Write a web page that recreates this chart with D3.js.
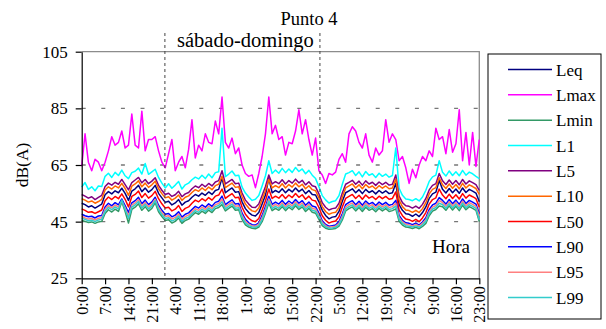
<!DOCTYPE html>
<html>
<head>
<meta charset="utf-8">
<script src="https://cdn.jsdelivr.net/npm/d3@7"></script>
<style>
  body { margin: 0; background: #fff; }
  svg text { font-family: "Liberation Serif", "Times New Roman", serif; fill: #000; }
</style>
</head>
<body>
<div id="chart"></div>
<script>
// hourly values, 5 days (0:00 day 1 .. 23:00 day 5)
const tickLabels = ["0:00","7:00","14:00","21:00","4:00","11:00","18:00","1:00","8:00",
  "15:00","22:00","5:00","12:00","19:00","2:00","9:00","16:00","23:00"];

const Leq = [
  51.5,51,50.2,50.6,49.8,50.5,51.2,54.5,55.6,54.8,55.9,55.2,56.8,55,52.5,55.8,56.6,57.8,55.6,56.9,55.4,56.3,57.8,55,
  53.4,51.8,52.2,50.9,51.6,52.8,50.8,51.9,52.4,53.6,54.6,54,55.1,54.3,55.5,54.6,56,56.4,60.5,55.2,56.1,56.9,55.4,55.6,
  52,49.6,48.2,47.3,47,48.2,51.2,54.4,60.5,55.2,56,55.3,56.6,55.2,56.4,55.5,56.9,55.6,56.5,54.9,56,54.6,54.4,52,
  49,47.2,46,46.6,46.8,48.6,52.2,55.2,55.9,56.6,55.2,56.3,54.9,56.4,55.3,55.9,54.8,56,55.1,55.9,54.9,55.2,58.5,51,
  49,47.8,47.6,46.9,47.7,46.8,48.2,50.2,53.2,54.8,55.4,59.5,56.4,55.1,56.7,55.2,56.5,55,56.9,55.3,56.4,55.8,55.1,52
];
const Lmax = [
  64.5,76,66,63,67,66,63,66,70,75,72,73,77,71,72,83,72,71,84,70,74,74,75,70,
  66,64,69,74,63,66,68,64,70.5,81,67.5,72,70,76,73,72.5,80.5,76,89,73,71,74.5,69,71,
  65,62,61,61.5,57,62,68,76,89,76,79,74,75,68.5,73,72.5,77,84.5,76,81,74,68.5,74.5,63,
  61.5,58.5,62,61.5,62.5,67,69,66,76,78.5,77,73,71,76,68.5,66,71,68.5,70,81,73,76,74,66.5,
  68,64,58.5,63.5,60.5,65,68,66.5,70,68,78,74,75,69,77.5,69.5,72.5,84.5,66.5,76.5,65,76.5,64.5,74
];
const Lmin = [
  45.5,45.1,44.7,44.9,44.4,44.9,45.1,47.9,49.2,48.4,49.4,48.6,52,48.6,44.5,49.3,50.1,51.3,49,50.3,48.7,49.7,51.7,48.5,
  46.8,45.4,45.7,44.5,45.1,46.3,44.4,45.4,45.9,47.1,48.2,47.6,48.7,47.9,49.1,48.2,49.6,50,51,48.8,49.7,50.5,49,49.2,
  45.8,43.9,43.1,42.7,42.5,43.1,45,48.1,51.5,48.9,49.7,49,50.3,48.9,50.1,49.2,50.6,49.3,50.2,48.6,49.7,48.3,48,45.8,
  43.6,42.7,42.3,42.4,42.6,43.4,45.6,48.8,49.6,50.2,48.8,50,48.6,50.1,49,49.6,48.5,49.7,48.8,49.6,48.6,48.9,49.5,45.1,
  43.8,43.1,42.9,42.6,43,42.5,43.3,44.4,47.1,48.7,49.3,50.5,50.3,49,50.6,49.1,50.4,48.9,50.8,49.2,50.3,49.7,49,45
];
const L1 = [
  57.2,58.8,56.4,57.3,55.9,57.6,57.4,61,62.1,60.6,62.4,61.3,63.2,61.2,60.2,62.3,62.8,63.9,61.8,65.5,61.7,62.6,63.5,60.6,
  58.6,56.9,58.4,56.8,57.9,59.2,56.5,58,58.6,59.8,60.7,60.1,61.4,60.2,61.8,60.5,62.3,62.6,78,60.9,61.8,62.9,61.2,61.4,
  57.2,55.1,53.7,52.5,52.9,54.2,57.6,61.2,66.5,62,63.2,62.1,63.8,62.3,63.6,62.4,64.1,62.7,63.6,61.9,63.1,61.4,60.2,57.3,
  54.2,52.7,51.6,52.1,52.4,54.2,58.2,61.8,62.3,63,61.3,62.6,60.8,62.7,61.4,61.9,60.6,62.1,61,61.8,60.7,61.3,71,56.8,
  54.3,53,52.8,52.4,53.1,52.3,53.7,56.1,59.2,60.8,61.4,66.5,62.4,61.1,62.9,61.3,62.6,61.2,63.1,61.4,62.5,61.9,61,60.2
];
const L5 = [
  54.6,54,53.3,53.8,52.8,53.6,54.3,57.4,58.6,57.9,58.9,58.2,59.9,58.1,56.2,58.8,59.7,60.6,58.7,59.9,58.4,59.3,60.5,57.8,
  56.1,54.6,55,53.9,54.5,55.7,53.8,54.8,55.3,56.6,57.6,57,58.2,57.3,58.5,57.6,59,59.5,63,58.3,59.1,59.9,58.4,58.6,
  55.1,52.6,51.2,50.1,50,51.2,54.2,57.4,61.5,58.3,59.1,58.4,59.8,58.3,59.5,58.6,60,58.7,59.6,58,59.1,57.7,57.3,54.8,
  51.7,50.1,49.1,49.6,49.8,51.5,55.1,58.2,58.9,59.6,58.2,59.3,57.9,59.4,58.3,58.9,57.8,59,58.1,58.9,57.9,58.2,61.5,54,
  51.7,50.6,50.4,49.8,50.5,49.7,51.1,53.2,56.2,57.8,58.4,62,59.4,58.1,59.7,58.2,59.5,58,59.9,58.3,59.4,58.8,58.1,56
];
const L10 = [
  53.1,52.6,51.9,52.3,51.5,52.1,52.9,56.2,57.3,56.5,57.6,56.9,58.5,56.7,54.3,57.5,58.3,59.4,57.3,58.6,57.1,58,59.3,56.6,
  54.9,53.4,53.8,52.6,53.3,54.4,52.5,53.6,54.1,55.3,56.3,55.7,56.9,56,57.2,56.3,57.7,58.2,61,57,57.8,58.6,57.1,57.3,
  53.8,51.2,49.8,48.8,48.5,49.8,52.8,56,60,56.9,57.7,57,58.4,56.9,58.1,57.2,58.6,57.3,58.2,56.6,57.7,56.3,55.9,53.4,
  50.3,48.6,47.6,48.1,48.3,50,53.7,56.9,57.6,58.3,56.9,58,56.6,58.1,57,57.6,56.5,57.7,56.8,57.6,56.6,56.9,60,52.6,
  50.3,49.1,48.9,48.3,49,48.2,49.6,51.7,54.8,56.4,57,60.5,58,56.7,58.3,56.8,58.1,56.6,58.5,56.9,58,57.4,56.7,54.6
];
const L50 = [
  49.5,49,48.3,48.5,47.9,48.5,49.1,52.4,53.7,52.8,53.9,53.1,54.8,52.9,50.2,53.9,54.6,55.8,53.5,54.9,53.3,54.2,55.7,53.1,
  51.3,49.8,50.1,48.8,49.4,50.7,48.6,49.7,50.2,51.5,52.6,52,53.1,52.3,53.5,52.6,54,54.4,56.5,53.2,54.1,54.9,53.4,53.6,
  50.1,47.6,46.2,45.3,45,46.1,49.1,52.4,56.5,53.2,54,53.3,54.6,53.2,54.4,53.5,54.9,53.6,54.5,52.9,54,52.6,52.3,50,
  47.1,45.5,44.5,45,45.2,46.7,50.2,53.2,53.9,54.6,53.2,54.3,52.9,54.4,53.3,53.9,52.8,54,53.1,53.9,52.9,53.2,55.5,49.1,
  47.1,45.9,45.7,45.1,45.8,45,46.3,48.2,51.2,52.8,53.4,56.5,54.4,53.1,54.7,53.2,54.5,53,54.9,53.3,54.4,53.8,53.1,50.1
];
const L90 = [
  47.6,47.1,46.7,46.9,46.3,47,47.2,50.2,51.5,50.6,51.7,50.9,53,50.7,48.2,51.6,52.4,53.6,51.3,52.6,51,52,53.6,50.8,
  49,47.6,47.9,46.7,47.3,48.5,46.6,47.6,48.1,49.3,50.4,49.8,50.9,50.1,51.3,50.4,51.8,52.2,54,51,51.9,52.7,51.2,51.4,
  48,45.8,44.6,43.9,43.8,44.6,47.2,50.3,54,51.1,51.9,51.2,52.5,51.1,52.3,51.4,52.8,51.5,52.4,50.8,51.9,50.5,50.2,48,
  45.3,44,43.4,43.6,43.8,45,47.8,51,51.8,52.4,51,52.2,50.8,52.3,51.2,51.8,50.7,51.9,51,51.8,50.8,51.1,52.5,47.2,
  45.5,44.6,44.4,43.9,44.5,43.8,44.9,46.4,49.3,50.9,51.5,53.5,52.5,51.2,52.8,51.3,52.6,51.1,53,51.4,52.5,51.9,51.2,47.8
];
const L95 = [
  46.9,46.3,45.9,46.1,45.6,46.2,46.4,49.4,50.7,49.9,50.9,50.1,52.3,49.9,47.1,50.8,51.6,52.8,50.5,51.8,50.2,51.2,52.9,50,
  48.2,46.8,47.1,45.9,46.5,47.7,45.8,46.8,47.3,48.5,49.6,49,50.1,49.3,50.5,49.6,51,51.4,53,50.2,51.1,51.9,50.4,50.6,
  47.2,45.1,44.1,43.5,43.4,44.1,46.4,49.5,53,50.3,51.1,50.4,51.7,50.3,51.5,50.6,52,50.7,51.6,50,51.1,49.7,49.4,47.2,
  44.7,43.6,43,43.2,43.4,44.4,47,50.2,51,51.6,50.2,51.4,50,51.5,50.4,51,49.9,51.1,50.2,51,50,50.3,51.5,46.5,
  44.9,44.1,43.9,43.5,44,43.4,44.4,45.7,48.5,50.1,50.7,52.5,51.7,50.4,52,50.5,51.8,50.3,52.2,50.6,51.7,51.1,50.4,47
];
const L99 = [
  46.2,45.8,45.3,45.5,45,45.6,45.8,48.7,50,49.2,50.2,49.4,52.6,49.3,46.2,50.1,50.9,52.1,49.8,51.1,49.5,50.5,52.4,49.3,
  47.5,46.1,46.4,45.2,45.8,47,45.1,46.1,46.6,47.8,48.9,48.3,49.4,48.6,49.8,48.9,50.3,50.7,52,49.5,50.4,51.2,49.7,49.9,
  46.5,44.5,43.6,43.1,43,43.6,45.7,48.8,52.3,49.6,50.4,49.7,51,49.6,50.8,49.9,51.3,50,50.9,49.3,50.4,49,48.7,46.5,
  44.2,43.2,42.7,42.8,43,43.9,46.3,49.5,50.3,50.9,49.5,50.7,49.3,50.8,49.7,50.3,49.2,50.4,49.5,50.3,49.3,49.6,50.5,45.8,
  44.4,43.6,43.4,43.1,43.5,43,43.9,45.1,47.8,49.4,50,51.5,51,49.7,51.3,49.8,51.1,49.6,51.5,49.9,51,50.4,49.7,45.6
];

const seriesNames = ["Leq","Lmax","Lmin","L1","L5","L10","L50","L90","L95","L99"];
const seriesColors = ["#000080","#ff00ff","#339966","#00ffff","#800080","#ff6600","#ff0000","#0000ff","#ff8080","#33cccc"];
const seriesValues = [Leq, Lmax, Lmin, L1, L5, L10, L50, L90, L95, L99];

const yTicks = [25, 45, 65, 85, 105];
const gridValues = [45, 65, 85];
const weekendBounds = [24.9, 71.3]; // dashed lines around sábado-domingo

const W = 606, H = 329;
const svg = d3.select("#chart").append("svg")
  .attr("width", W).attr("height", H);
svg.append("rect").attr("width", W).attr("height", H).attr("fill", "#fff");

const x = d3.scaleLinear().domain([0, Leq.length - 1]).range([81.7, 479.3]);
const y = d3.scaleLinear().domain([25, 105]).range([278.3, 51.7]);

// grid lines
svg.append("g").selectAll("line")
  .data(gridValues).enter().append("line")
  .attr("x1", x(0)).attr("x2", x(119))
  .attr("y1", d => y(d)).attr("y2", d => y(d))
  .attr("stroke", "#777").attr("stroke-width", 1.3)
  .attr("stroke-dasharray", "4,15.6");

// plot frame top/right
svg.append("path")
  .attr("d", `M${x(0)},${y(105)}H${x(119)}V${y(25)}`)
  .attr("fill", "none").attr("stroke", "#8c8c8c").attr("stroke-width", 1.3);

// series
const line = d3.line().x((d, i) => x(i)).y(d => y(d));
svg.append("g").selectAll("path")
  .data(seriesValues).enter().append("path")
  .attr("d", line)
  .attr("fill", "none")
  .attr("stroke", (d, i) => seriesColors[i])
  .attr("stroke-width", 1.5)
  .attr("stroke-linejoin", "round");

// weekend separators
svg.append("g").selectAll("line")
  .data(weekendBounds).enter().append("line")
  .attr("x1", d => x(d)).attr("x2", d => x(d))
  .attr("y1", 33).attr("y2", y(25))
  .attr("stroke", "#444").attr("stroke-width", 1)
  .attr("stroke-dasharray", "3,3");

// axes
const yAxis = svg.append("g")
  .attr("transform", `translate(${x(0)},0)`)
  .call(d3.axisLeft(y).tickValues(yTicks).tickSize(6).tickSizeOuter(0).tickPadding(8));
yAxis.selectAll("text").style("font-size", "17px").style("font-family", "Liberation Serif");

const xAxis = svg.append("g")
  .attr("transform", `translate(0,${y(25)})`)
  .call(d3.axisBottom(x).tickValues(d3.range(0, 120, 7))
    .tickFormat((d, i) => tickLabels[i]).tickSize(6).tickSizeOuter(0));
xAxis.selectAll("text")
  .style("font-size", "16px").style("font-family", "Liberation Serif")
  .attr("text-anchor", "end")
  .attr("transform", "rotate(-90)")
  .attr("x", -8).attr("y", 0).attr("dy", "0.35em");

svg.selectAll(".domain, .tick line").attr("stroke", "#000").attr("stroke-width", 1.2);

// labels
svg.append("text").attr("x", 309).attr("y", 25).attr("text-anchor", "middle")
  .style("font-size", "18.5px").text("Punto 4");
svg.append("text").attr("x", 177).attr("y", 46.5)
  .style("font-size", "20.5px").text("sábado-domingo");
svg.append("text").attr("x", 432).attr("y", 253)
  .style("font-size", "19px").text("Hora");
svg.append("text").attr("transform", "translate(27.5,165) rotate(-90)")
  .attr("text-anchor", "middle").style("font-size", "17.5px").text("dB(A)");

// legend
const legend = svg.append("g");
legend.append("rect").attr("x", 488).attr("y", 54).attr("width", 113).attr("height", 265)
  .attr("fill", "#fff").attr("stroke", "#000").attr("stroke-width", 1);
const ly = d3.scalePoint().domain(seriesNames).range([69.5, 297.5]);
const items = legend.selectAll("g.item").data(seriesNames).enter().append("g")
  .attr("transform", d => `translate(0,${ly(d)})`);
items.append("line").attr("x1", 508).attr("x2", 552)
  .attr("stroke", (d, i) => seriesColors[i]).attr("stroke-width", 1.5);
items.append("text").attr("x", 556).attr("y", 6).style("font-size", "17px").text(d => d);
</script>
</body>
</html>
